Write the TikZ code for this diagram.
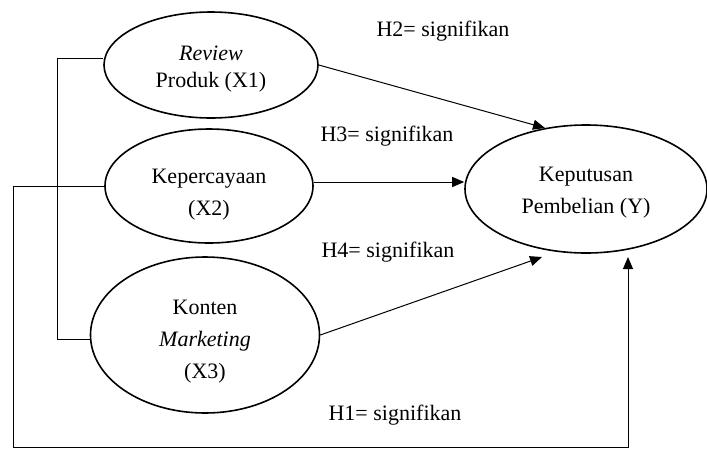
\documentclass[tikz,border=0pt]{standalone}
\usepackage{fontspec}
\setmainfont{Liberation Serif}
\usetikzlibrary{shapes.geometric,arrows.meta}
\tikzset{
  var/.style={ellipse, draw, line width=1.6pt, inner sep=0pt},
  txt/.style={align=center, font=\fontsize{22}{32}\selectfont, inner sep=0pt},
  lbl/.style={font=\fontsize{22}{26}\selectfont, inner sep=0pt},
  conn/.style={line width=1pt},
  arr/.style={line width=1pt, -{Triangle[length=12pt,width=10pt]}}
}
\begin{document}
\begin{tikzpicture}[x=1pt,y=-1pt]
\useasboundingbox (0,0) rectangle (707,448);
% ellipses
\node[var, minimum width=214pt, minimum height=106pt] (x1) at (211,65) {};
\node[var, minimum width=208pt, minimum height=114pt] (x2) at (209,186) {};
\node[var, minimum width=229pt, minimum height=156pt] (x3) at (205,335) {};
\node[var, minimum width=242pt, minimum height=128pt] (y) at (586,189) {};
% texts
\node[txt, font=\fontsize{22}{27}\selectfont] (t1) at (211,69) {\textit{Review}\\Produk (X1)};
\node[txt] (t2) at (209,195) {Kepercayaan\\(X2)};
\node[txt] (t3) at (205,342) {Konten\\\textit{Marketing}\\(X3)};
\node[txt] (ty) at (586,193) {Keputusan\\Pembelian (Y)};
% labels
\node[lbl] (h2) at (443,31) {H2= signifikan};
\node[lbl] (h3) at (387,136) {H3= signifikan};
\node[lbl] (h4) at (388,252) {H4= signifikan};
\node[lbl] (h1) at (395,415) {H1= signifikan};
% coordinates
\coordinate (bt) at (57,58);
\coordinate (bb) at (57,339);
\coordinate (o1) at (13,186);
\coordinate (o2) at (13,447);
\coordinate (o3) at (628,447);
\coordinate (o4) at (628,257);
\coordinate (a1) at (545,128);
\coordinate (a3) at (542,257);
% bracket
\draw[conn] (x1.west |- bt) -- (bt) -- (bb) -- (x3.west |- bb);
% outer path
\draw[arr] (x2.west) -- (o1) -- (o2) -- (o3) -- (o4);
% arrows
\draw[arr] (x1.east) -- (a1);
\draw[arr] ([yshift=4pt]x2.east) -- ([yshift=4pt]x2.east -| y.west);
\draw[arr] (x3.east) -- (a3);
\end{tikzpicture}
\end{document}
